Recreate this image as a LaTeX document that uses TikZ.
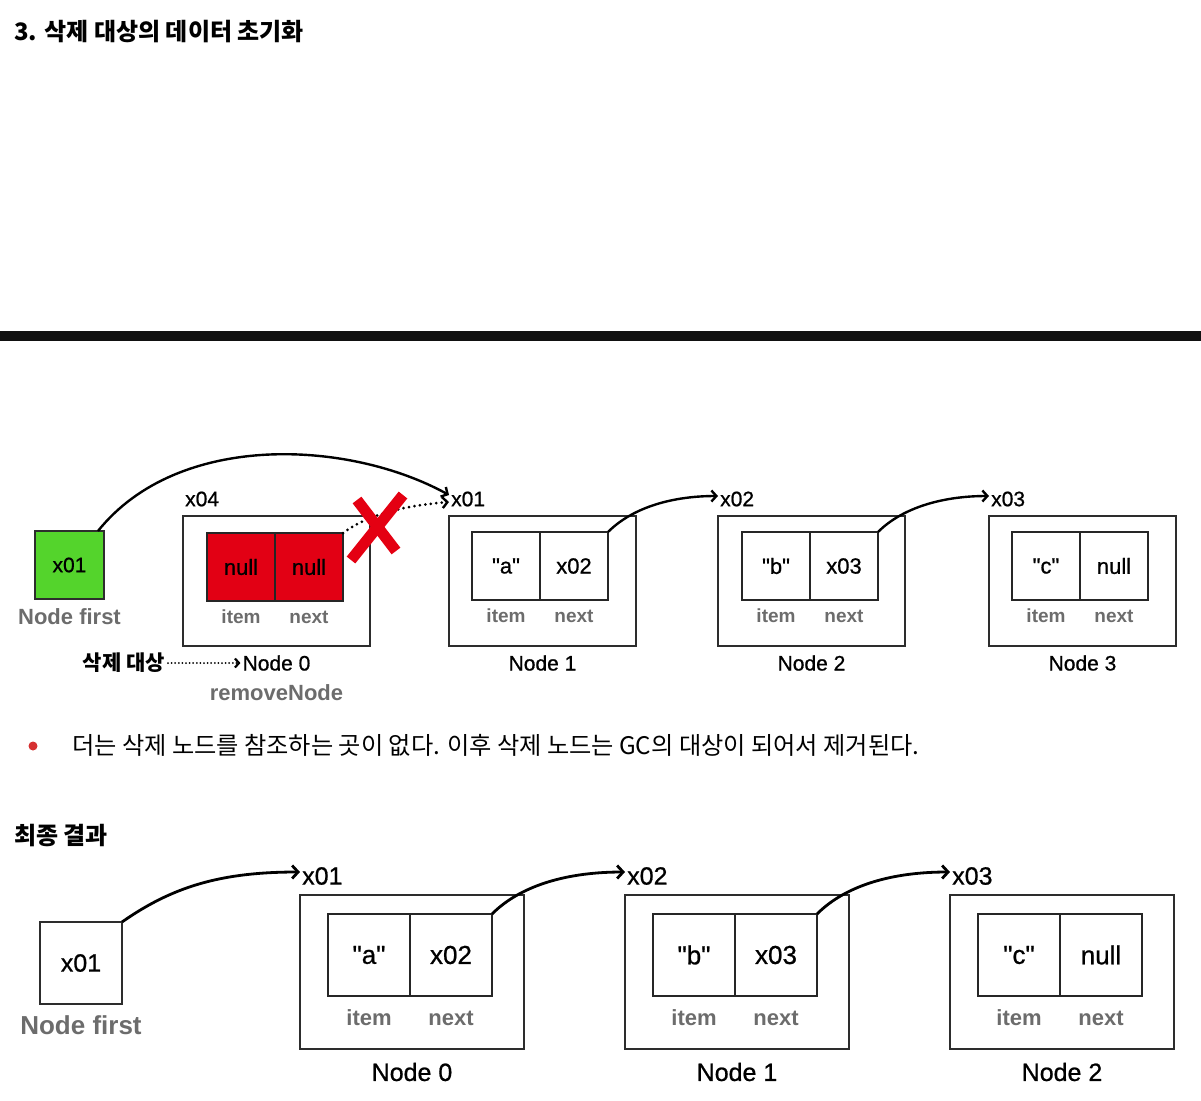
\documentclass[tikz,border=0pt]{standalone}
\usepackage{fontspec}
\setmainfont{Liberation Sans}
\newfontfamily\qf{Liberation Sans}[FakeBold=0.8]
\newfontfamily\kr{Noto Sans CJK KR}
\usetikzlibrary{arrows.meta}
\definecolor{gfill}{RGB}{84,212,44}
\definecolor{rfill}{RGB}{226,0,20}
\definecolor{xred}{RGB}{228,0,18}
\definecolor{lblgray}{RGB}{108,108,108}
\definecolor{boxline}{RGB}{45,45,45}
\definecolor{bulletred}{RGB}{214,48,49}
\definecolor{barcol}{RGB}{17,17,17}
\newcommand\fsz[1]{\fontsize{#1}{#1}\selectfont}
\begin{document}
\begin{tikzpicture}[x=1pt,y=-1pt,
  outer/.style={draw=boxline,line width=1.4pt,anchor=north west,inner sep=0pt,outer sep=0pt},
  cellT/.style={draw=black!85,line width=1.4pt,anchor=north west,inner sep=0pt,outer sep=0pt,minimum width=68pt,minimum height=68pt,font=\qf\fsz{22}},
  cellB/.style={draw=black!85,line width=1.5pt,anchor=north west,inner sep=0pt,outer sep=0pt,minimum width=82pt,minimum height=82pt,font=\qf\fsz{26}},
  fieldT/.style={text=lblgray,inner sep=0pt,font=\bfseries\fsz{19}},
  fieldB/.style={text=lblgray,inner sep=0pt,font=\bfseries\fsz{22}},
  nameT/.style={inner sep=2pt,font=\qf\fsz{21}},
  nameB/.style={inner sep=2pt,font=\qf\fsz{25}},
  addrT/.style={anchor=west,inner xsep=2pt,inner ysep=0pt,font=\qf\fsz{21}},
  addrB/.style={anchor=west,inner xsep=2pt,inner ysep=0pt,font=\qf\fsz{25}},
  arrT/.style={line width=2.4pt,-{Straight Barb[length=5pt,width=11pt]}},
  arrB/.style={line width=2.8pt,-{Straight Barb[length=6pt,width=13pt]}},
]
\useasboundingbox (0,0) rectangle (1201,1100);

% headings
\node[anchor=west,inner sep=0pt,font=\kr\bfseries\fsz{24}] (title) at (14,32) {3. 삭제 대상의 데이터 초기화};
\fill[barcol] (0,331) rectangle (1201,341);

% ---------- top diagram ----------
\node[outer,fill=gfill,minimum width=69pt,minimum height=68pt,font=\qf\fsz{21}] (first) at (35,531) {x01};
\node[text=lblgray,inner sep=0pt,font=\bfseries\fsz{22}] (firstlbl) at (69.5,617) {Node first};

% Node 0 (removed)
\node[outer,minimum width=187pt,minimum height=130pt] (n0) at (183,516) {};
\node[cellT,fill=rfill] (n0i) at (207,533) {null};
\node[cellT,fill=rfill] (n0n) at (n0i.north east) {null};
\node[fieldT] at ([yshift=-16pt]n0i.south) {item};
\node[fieldT] at ([yshift=-16pt]n0n.south) {next};
\node[nameT] (n0name) at ([yshift=-17pt]n0.south) {Node 0};
\node[addrT] (a0) at ([yshift=17pt]n0.north west) {x04};

% Node 1
\node[outer,minimum width=187pt,minimum height=130pt] (n1) at (449,516) {};
\node[cellT] (n1i) at (472,532) {"a"};
\node[cellT] (n1n) at (n1i.north east) {x02};
\node[fieldT] at ([yshift=-16pt]n1i.south) {item};
\node[fieldT] at ([yshift=-16pt]n1n.south) {next};
\node[nameT] (n1name) at ([yshift=-17pt]n1.south) {Node 1};
\node[addrT] (a1) at ([yshift=17pt]n1.north west) {x01};

% Node 2
\node[outer,minimum width=187pt,minimum height=130pt] (n2) at (718,516) {};
\node[cellT] (n2i) at (742,532) {"b"};
\node[cellT] (n2n) at (n2i.north east) {x03};
\node[fieldT] at ([yshift=-16pt]n2i.south) {item};
\node[fieldT] at ([yshift=-16pt]n2n.south) {next};
\node[nameT] (n2name) at ([yshift=-17pt]n2.south) {Node 2};
\node[addrT] (a2) at ([yshift=17pt]n2.north west) {x02};

% Node 3
\node[outer,minimum width=187pt,minimum height=130pt] (n3) at (989,516) {};
\node[cellT] (n3i) at (1012,532) {"c"};
\node[cellT] (n3n) at (n3i.north east) {null};
\node[fieldT] at ([yshift=-16pt]n3i.south) {item};
\node[fieldT] at ([yshift=-16pt]n3n.south) {next};
\node[nameT] (n3name) at ([yshift=-17pt]n3.south) {Node 3};
\node[addrT] (a3) at ([yshift=17pt]n3.north west) {x03};

% connectors top
\draw[arrT] ([xshift=-6pt]first.north east) .. controls +(80,-100) and +(-100,-55) .. ([yshift=4pt]a1.west);
\draw[line width=3pt,dash pattern=on 0pt off 5.5pt,line cap=round,-{Straight Barb[length=5pt,width=11pt,line width=2.4pt]}]
  (n0n.north east) .. controls +(30,-22) and +(-35,3) .. ([yshift=-3pt]a1.west);
\draw[xred,line width=11pt] (357,500) -- (396,551);
\draw[xred,line width=11pt] (403,495) -- (351,560);
\draw[arrT] (n1n.north east) .. controls +(25,-25) and +(-45,0) .. ([yshift=3pt]a2.west);
\draw[arrT] (n2n.north east) .. controls +(25,-25) and +(-45,0) .. ([yshift=3pt]a3.west);

% deletion target label
\node[anchor=east,inner sep=0pt,font=\kr\bfseries\fsz{21}] (del) at (165,663) {삭제 대상};
\draw[line width=2pt,dash pattern=on 0pt off 3.6pt,line cap=round,-{Straight Barb[length=4pt,width=9pt,line width=2.2pt]}] ([xshift=3pt]del.east) -- (n0name.west);
\node[text=lblgray,inner sep=0pt,font=\bfseries\fsz{22}] (remove) at (276.5,693) {removeNode};

% bullet
\fill[bulletred] (33,746) circle (4.5pt);
\node[anchor=west,inner sep=0pt,font=\kr\fsz{24.2}] (bul) at (72,745) {더는 삭제 노드를 참조하는 곳이 없다. 이후 삭제 노드는 GC의 대상이 되어서 제거된다.};

\node[anchor=west,inner sep=0pt,font=\kr\bfseries\fsz{24}] (res) at (14,836) {최종 결과};

% ---------- bottom diagram ----------
\node[outer,minimum width=82pt,minimum height=82pt,font=\qf\fsz{25}] (bfirst) at (40,922) {x01};
\node[text=lblgray,inner sep=0pt,font=\bfseries\fsz{26}] (bfirstlbl) at (81,1025) {Node first};

\node[outer,minimum width=224pt,minimum height=154pt] (m0) at (300,895) {};
\node[cellB] (m0i) at (328,914) {"a"};
\node[cellB] (m0n) at (m0i.north east) {x02};
\node[fieldB] at ([yshift=-22pt]m0i.south) {item};
\node[fieldB] at ([yshift=-22pt]m0n.south) {next};
\node[nameB] (m0name) at ([yshift=-23pt]m0.south) {Node 0};
\node[addrB] (b1) at ([yshift=19pt]m0.north west) {x01};

\node[outer,minimum width=224pt,minimum height=154pt] (m1) at (625,895) {};
\node[cellB] (m1i) at (653,914) {"b"};
\node[cellB] (m1n) at (m1i.north east) {x03};
\node[fieldB] at ([yshift=-22pt]m1i.south) {item};
\node[fieldB] at ([yshift=-22pt]m1n.south) {next};
\node[nameB] (m1name) at ([yshift=-23pt]m1.south) {Node 1};
\node[addrB] (b2) at ([yshift=19pt]m1.north west) {x02};

\node[outer,minimum width=224pt,minimum height=154pt] (m2) at (950,895) {};
\node[cellB] (m2i) at (978,914) {"c"};
\node[cellB] (m2n) at (m2i.north east) {null};
\node[fieldB] at ([yshift=-22pt]m2i.south) {item};
\node[fieldB] at ([yshift=-22pt]m2n.south) {next};
\node[nameB] (m2name) at ([yshift=-23pt]m2.south) {Node 2};
\node[addrB] (b3) at ([yshift=19pt]m2.north west) {x03};

\draw[arrB] (bfirst.north east) .. controls +(50,-35) and +(-80,0) .. ([yshift=4pt]b1.west);
\draw[arrB] (m0n.north east) .. controls +(30,-30) and +(-55,0) .. ([yshift=4pt]b2.west);
\draw[arrB] (m1n.north east) .. controls +(30,-30) and +(-55,0) .. ([yshift=4pt]b3.west);
\end{tikzpicture}
\end{document}
